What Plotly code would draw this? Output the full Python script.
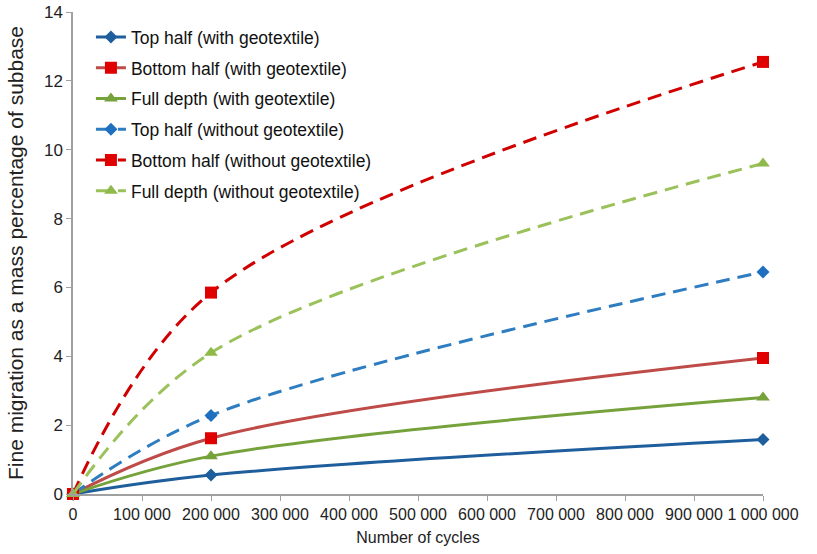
import plotly.graph_objects as go

cycles = [0, 200000, 1000000]
top_with = [0, 0.55, 1.58]
bottom_with = [0, 1.62, 3.95]
full_with = [0, 1.1, 2.8]
top_without = [0, 2.28, 6.45]
bottom_without = [0, 5.85, 12.55]
full_without = [0, 4.1, 9.6]

x_tickvals = [0, 100000, 200000, 300000, 400000, 500000, 600000, 700000, 800000, 900000, 1000000]
x_ticktext = ["0", "100 000", "200 000", "300 000", "400 000", "500 000", "600 000",
              "700 000", "800 000", "900 000", "1 000 000"]
y_tickvals = [0, 2, 4, 6, 8, 10, 12, 14]

series = [
    ("Top half (with geotextile)", top_with, "#1F5E9C", "#1F5E9C", "solid", "diamond", 10),
    ("Bottom half (with geotextile)", bottom_with, "#BE4B48", "#E00000", "solid", "square", 12),
    ("Full depth (with geotextile)", full_with, "#76A23B", "#76A23B", "solid", "triangle-up", 12),
    ("Top half (without geotextile)", top_without, "#2E7DC0", "#1F6FC0", "14px,8px", "diamond", 10),
    ("Bottom half (without geotextile)", bottom_without, "#D00000", "#E00000", "14px,8px", "square", 12),
    ("Full depth (without geotextile)", full_without, "#9BC15A", "#8FBA4A", "14px,8px", "triangle-up", 12),
]

fig = go.Figure()
for i, (name, ys, lc, mc, dash, sym, ms) in enumerate(series):
    fig.add_trace(go.Scatter(
        x=cycles, y=ys, name=name, mode="lines+markers",
        line=dict(color=lc, width=3, dash=dash, shape="spline", smoothing=1.0),
        marker=dict(color=mc, symbol=sym, size=ms),
        legendgroup=f"g{i}", cliponaxis=False,
    ))

fig.update_layout(
    width=817, height=554,
    paper_bgcolor="white", plot_bgcolor="white",
    margin=dict(l=73, r=54, t=12, b=60),
    font=dict(family="Liberation Sans, Arial, sans-serif", size=16, color="#222222"),
    showlegend=True,
    legend=dict(x=0.026, y=0.985, xanchor="left", yanchor="top",
                font=dict(size=17.5, color="#111111"), tracegroupgap=5,
                bgcolor="rgba(0,0,0,0)"),
    xaxis=dict(range=[0, 1000000], tickvals=x_tickvals, ticktext=x_ticktext,
               showgrid=False, zeroline=False, showline=True, linecolor="#A0A0A0",
               linewidth=1.5, ticks="outside", tickcolor="#A0A0A0", ticklen=5,
               automargin=False,
               title=dict(text="Number of cycles", font=dict(size=16), standoff=10),
               tickfont=dict(size=16)),
    yaxis=dict(range=[0, 14], tickvals=y_tickvals,
               showgrid=False, zeroline=False, showline=True, linecolor="#A0A0A0",
               linewidth=1.5, ticks="outside", tickcolor="#A0A0A0", ticklen=5,
               automargin=False,
               title=dict(text="Fine migration as a mass percentage of subbase", font=dict(size=21), standoff=15),
               tickfont=dict(size=17)),
)

fig.write_html("out.html", config={"displayModeBar": False},
               post_script="document.body.style.margin='0';")
